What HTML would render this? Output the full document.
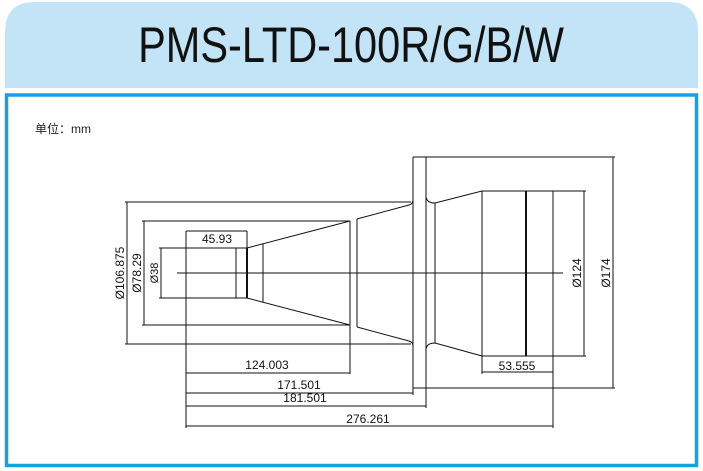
<!DOCTYPE html>
<html><head><meta charset="utf-8"><style>
html,body{margin:0;padding:0;background:#fff;width:703px;height:471px;overflow:hidden}
</style></head><body>
<svg width="703" height="471" viewBox="0 0 703 471" xmlns="http://www.w3.org/2000/svg">
<path d="M5 88 V32 Q5 2 35 2 H668 Q698 2 698 32 V88 Z" fill="#c3e4f7"/>
<text x="351" y="62" text-anchor="middle" font-family="Liberation Sans, sans-serif" font-size="50" fill="#111" transform="translate(351 0) scale(0.83 1) translate(-351 0)">PMS-LTD-100R/G/B/W</text>
<rect x="6.5" y="95" width="690" height="370.5" fill="none" stroke="#1aa0dc" stroke-width="3.5"/>
<text x="35" y="133" font-family="Liberation Sans, 'Noto Sans CJK SC', sans-serif" font-size="12" fill="#222">单位：mm</text>
<g stroke="#111" stroke-width="1" fill="none">
<line x1="177" y1="273" x2="563" y2="273"/>
<line x1="125" y1="202" x2="411" y2="202"/>
<line x1="125" y1="344" x2="411" y2="344"/>
<line x1="127" y1="202" x2="127" y2="344"/>
<line x1="142" y1="221" x2="350" y2="221"/>
<line x1="142" y1="325" x2="350" y2="325"/>
<line x1="144" y1="221" x2="144" y2="325"/>
<line x1="159" y1="248" x2="247" y2="248"/>
<line x1="159" y1="298" x2="247" y2="298"/>
<line x1="161" y1="248" x2="161" y2="298"/>
<line x1="186" y1="231" x2="186" y2="428"/>
<line x1="236" y1="248" x2="236" y2="298"/>
<line x1="247" y1="248" x2="247" y2="298" stroke-width="2"/>
<line x1="186" y1="231" x2="247" y2="231"/>
<line x1="247" y1="231" x2="247" y2="248"/>
<line x1="247" y1="248" x2="350" y2="221"/>
<line x1="247" y1="298" x2="350" y2="325"/>
<line x1="263" y1="244" x2="263" y2="302"/>
<line x1="350" y1="221" x2="350" y2="374"/>
<line x1="357" y1="219" x2="357" y2="327"/>
<path d="M357 219 L409 205 Q413 204 413 200"/>
<path d="M357 327 L409 341 Q413 342 413 346"/>
<line x1="413" y1="157" x2="413" y2="395"/>
<line x1="426" y1="157" x2="426" y2="408"/>
<line x1="413" y1="157" x2="615" y2="157"/>
<line x1="413" y1="388" x2="615" y2="388"/>
<line x1="613" y1="157" x2="613" y2="388"/>
<path d="M426 197 Q427 203 435 203 L482 191"/>
<path d="M426 349 Q427 343 435 343 L482 356"/>
<line x1="435" y1="203" x2="435" y2="343"/>
<line x1="482" y1="191" x2="482" y2="374"/>
<line x1="526" y1="191" x2="526" y2="356" stroke-width="2"/>
<line x1="553" y1="191" x2="553" y2="428"/>
<line x1="482" y1="191" x2="586" y2="191"/>
<line x1="482" y1="356" x2="586" y2="356"/>
<line x1="584" y1="191" x2="584" y2="356"/>
<line x1="482" y1="372" x2="553" y2="372"/>
<line x1="186" y1="373" x2="350" y2="373"/>
<line x1="186" y1="393" x2="413" y2="393"/>
<line x1="186" y1="406" x2="426" y2="406"/>
<line x1="186" y1="426" x2="553" y2="426"/>
</g>
<g font-family="Liberation Sans, sans-serif" font-size="12" fill="#111" text-anchor="middle">
<text x="217" y="243">45.93</text>
<text x="267" y="369">124.003</text>
<text x="299" y="389">171.501</text>
<text x="305" y="402">181.501</text>
<text x="368" y="423">276.261</text>
<text x="517" y="370">53.555</text>
<text transform="translate(124 273) rotate(-90)">Ø106.875</text>
<text transform="translate(141 273) rotate(-90)">Ø78.29</text>
<text transform="translate(158 273) rotate(-90)" font-size="11">Ø38</text>
<text transform="translate(581 273) rotate(-90)">Ø124</text>
<text transform="translate(610 273) rotate(-90)">Ø174</text>
</g>
</svg>
</body></html>
